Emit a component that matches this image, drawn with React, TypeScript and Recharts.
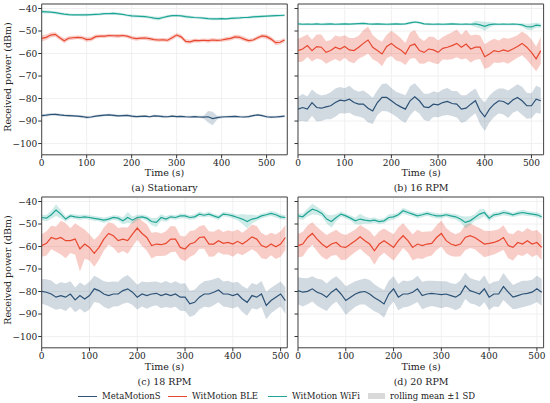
import React from 'react';
import { ComposedChart, Line, Area, XAxis, YAxis, CartesianGrid, ReferenceArea } from 'recharts';

// time axis (s), one rolling-mean sample every 10 s
const TIME = [
  0, 10, 20, 30, 40, 50, 60, 70, 80, 90, 100, 110, 120, 130, 140, 150, 160, 170, 180, 190,
  200, 210, 220, 230, 240, 250, 260, 270, 280, 290, 300, 310, 320, 330, 340, 350, 360, 370, 380, 390,
  400, 410, 420, 430, 440, 450, 460, 470, 480, 490, 500, 510, 520, 530, 540,
];

const X_TICKS = [0, 100, 200, 300, 400, 500];
const Y_TICKS = [-100, -90, -80, -70, -60, -50, -40];

// (a) Stationary
const A_META = [
  -87.6, -87.4, -87.1, -87.0, -87.3, -87.5, -87.6, -87.7, -87.8, -88.0,
  -88.4, -88.2, -87.8, -87.6, -87.4, -87.3, -87.5, -87.7, -87.6, -87.5,
  -87.8, -88.0, -87.9, -87.8, -88.1, -87.7, -87.8, -88.0, -88.1, -87.8,
  -88.0, -87.9, -88.1, -88.2, -88.0, -88.2, -88.3, -88.1, -88.9, -88.5,
  -88.2, -88.1, -88.0, -87.9, -88.1, -88.2, -88.0, -87.6, -87.3, -87.6,
  -88.1, -88.3, -88.2, -88.0, -87.8,
];
const A_META_SD = [
  0.6, 0.6, 0.7, 0.6, 0.6, 0.5, 0.6, 0.5, 0.5, 0.6,
  0.6, 0.6, 0.5, 0.6, 0.5, 0.5, 0.6, 0.5, 0.5, 0.5,
  0.6, 0.5, 0.5, 0.5, 0.5, 0.5, 0.5, 0.6, 0.5, 0.5,
  0.5, 0.5, 0.5, 0.5, 0.5, 0.5, 0.6, 2.6, 3.0, 0.8,
  0.6, 0.5, 0.5, 0.5, 0.5, 0.5, 0.5, 0.5, 0.5, 0.5,
  0.6, 0.5, 0.6, 0.5, 0.5,
];
const A_BLE = [
  -53.3, -52.8, -51.8, -51.5, -53.0, -54.3, -53.2, -53.0, -52.8, -53.0,
  -53.8, -53.6, -52.5, -52.3, -52.3, -52.0, -52.1, -52.2, -52.0, -52.3,
  -53.0, -53.4, -53.2, -53.1, -53.4, -53.8, -54.0, -53.9, -54.1, -53.0,
  -51.8, -52.6, -54.6, -54.8, -54.2, -54.3, -54.1, -54.3, -54.0, -54.2,
  -54.0, -53.6, -53.3, -52.6, -52.8, -53.6, -54.3, -54.0, -53.0, -52.2,
  -52.5, -53.6, -55.2, -55.0, -54.0,
];
const A_BLE_SD = [
  1.4, 1.2, 1.1, 1.0, 1.0, 1.1, 0.9, 0.9, 0.8, 0.9,
  1.0, 1.0, 0.9, 0.8, 0.8, 0.8, 0.8, 0.9, 0.8, 0.8,
  0.9, 0.9, 0.8, 0.9, 0.9, 0.8, 0.9, 0.8, 0.9, 1.0,
  0.9, 1.0, 1.0, 0.9, 0.9, 0.8, 0.8, 0.9, 0.9, 0.8,
  0.8, 0.9, 0.9, 0.9, 1.0, 1.0, 0.9, 0.8, 0.9, 0.9,
  1.0, 1.0, 1.1, 1.0, 0.9,
];
const A_WIFI = [
  -41.4, -41.5, -41.6, -41.8, -42.2, -42.5, -42.7, -42.8, -42.8, -42.8,
  -42.8, -42.7, -42.6, -42.5, -42.3, -42.3, -42.2, -42.4, -42.6, -43.0,
  -43.3, -43.4, -43.5, -43.6, -43.9, -44.3, -44.5, -44.0, -43.5, -43.2,
  -43.1, -43.3, -43.6, -43.8, -44.0, -44.1, -44.3, -44.5, -44.6, -44.6,
  -44.5, -44.6, -44.4, -44.3, -44.2, -44.0, -43.9, -43.7, -43.6, -43.5,
  -43.4, -43.3, -43.2, -43.1, -43.0,
];
const A_WIFI_SD = [
  0.7, 0.7, 0.6, 0.6, 0.7, 0.6, 0.6, 0.5, 0.5, 0.6,
  0.6, 0.5, 0.6, 0.6, 0.5, 0.5, 0.6, 0.6, 0.5, 0.6,
  0.7, 0.6, 0.6, 0.6, 0.7, 0.8, 0.8, 0.7, 0.6, 0.6,
  0.6, 0.6, 0.7, 0.6, 0.6, 0.6, 0.6, 0.6, 0.6, 0.6,
  0.6, 0.5, 0.6, 0.6, 0.6, 0.5, 0.6, 0.6, 0.6, 0.6,
  0.5, 0.6, 0.6, 0.6, 0.6,
];

// (b) 16 RPM
const B_META = [
  -84.7, -84.0, -84.7, -81.8, -84.0, -84.3, -83.7, -83.2, -81.8, -80.7,
  -81.0, -80.3, -81.8, -82.5, -82.5, -84.3, -85.5, -81.8, -79.5, -79.5,
  -81.0, -82.5, -83.7, -84.7, -81.0, -79.2, -81.0, -83.7, -84.0, -82.5,
  -82.8, -81.8, -81.3, -82.2, -82.5, -84.7, -84.3, -82.5, -81.0, -85.5,
  -88.1, -84.7, -82.5, -81.0, -81.3, -82.5, -80.7, -79.5, -81.0, -83.2,
  -83.2, -80.3, -81.0,
];
const B_META_SD = [
  5.5, 6.0, 5.6, 5.8, 6.2, 5.7, 5.5, 6.0, 6.3, 5.8,
  5.6, 6.0, 5.7, 5.5, 6.1, 6.4, 5.8, 5.5, 6.0, 6.2,
  5.7, 5.5, 5.9, 6.2, 6.5, 6.0, 5.6, 5.8, 6.1, 5.7,
  5.5, 5.8, 6.0, 5.6, 5.9, 6.2, 5.8, 5.6, 5.5, 5.9,
  6.3, 6.0, 5.7, 5.5, 5.8, 6.1, 5.6, 5.9, 6.2, 5.8,
  5.6, 6.0, 5.8,
];
const B_BLE = [
  -58.7, -58.0, -56.5, -58.7, -56.9, -57.2, -59.5, -58.7, -57.2, -58.0,
  -56.9, -58.4, -58.7, -57.2, -55.5, -54.0, -57.2, -58.7, -60.2, -56.9,
  -55.5, -57.2, -58.4, -60.2, -56.5, -55.8, -58.7, -59.5, -58.0, -58.4,
  -59.5, -57.7, -57.2, -56.5, -55.5, -57.2, -55.8, -58.0, -57.2, -57.2,
  -61.4, -60.2, -58.7, -59.2, -58.4, -59.0, -58.0, -56.9, -55.5, -57.2,
  -59.5, -62.4, -58.7,
];
const B_BLE_SD = [
  5.2, 5.5, 5.0, 4.8, 5.3, 5.6, 5.0, 4.7, 5.2, 5.5,
  5.0, 5.3, 5.6, 5.1, 5.8, 6.0, 5.4, 5.0, 5.5, 5.2,
  5.6, 5.9, 5.3, 4.9, 5.8, 6.2, 5.7, 5.1, 5.4, 5.8,
  5.3, 5.0, 5.6, 6.0, 6.2, 5.5, 6.4, 6.0, 5.6, 5.2,
  5.5, 5.8, 5.3, 5.0, 5.4, 5.6, 5.2, 5.0, 5.3, 5.6,
  5.8, 5.5, 6.0,
];
const B_WIFI = [
  -46.8, -47.0, -46.9, -47.0, -46.8, -47.0, -46.9, -46.8, -47.0, -46.9,
  -46.8, -46.9, -46.8, -46.7, -46.6, -46.8, -46.9, -46.8, -46.9, -47.0,
  -46.9, -46.8, -46.9, -46.8, -46.4, -46.0, -46.3, -46.8, -46.9, -47.0,
  -46.9, -47.0, -46.9, -46.8, -46.9, -47.0, -46.9, -47.0, -46.8, -47.3,
  -47.9, -47.2, -46.9, -47.0, -46.9, -47.0, -46.9, -47.0, -47.3, -48.1,
  -48.2, -47.4, -47.6,
];
const B_WIFI_SD = [
  0.6, 0.6, 0.5, 0.6, 0.5, 0.5, 0.6, 0.5, 0.5, 0.5,
  0.5, 0.5, 0.5, 0.5, 0.5, 0.5, 0.5, 0.5, 0.5, 0.5,
  0.5, 0.5, 0.5, 0.5, 0.6, 0.6, 0.5, 0.5, 0.5, 0.5,
  0.5, 0.5, 0.5, 0.5, 0.5, 0.5, 0.5, 0.5, 1.4, 1.6,
  2.0, 1.2, 0.6, 0.5, 0.5, 0.5, 0.5, 0.5, 0.7, 1.3,
  1.5, 1.2, 0.9,
];

// (c) 18 RPM
const C_META = [
  -79.9, -80.3, -81.1, -82.5, -81.8, -82.5, -81.1, -83.7, -81.8, -83.3,
  -81.8, -78.8, -79.6, -81.1, -81.8, -81.1, -81.1, -79.6, -78.8, -80.3,
  -82.5, -81.1, -81.8, -81.1, -80.8, -81.8, -81.1, -81.8, -81.1, -82.5,
  -82.5, -85.5, -84.8, -82.5, -81.1, -81.1, -80.3, -79.3, -81.1, -81.1,
  -81.8, -81.1, -83.3, -84.8, -81.8, -82.5, -81.1, -86.2, -84.0, -82.5,
  -81.1, -84.0,
];
const C_META_SD = [
  5.5, 5.8, 6.0, 5.6, 5.9, 6.2, 5.7, 5.5, 5.8, 6.0,
  6.2, 5.8, 5.5, 5.7, 6.0, 5.6, 5.4, 5.8, 6.1, 5.7,
  5.5, 5.6, 5.9, 5.5, 5.3, 5.6, 5.8, 5.5, 5.7, 6.0,
  6.2, 5.8, 5.6, 5.5, 5.7, 6.0, 5.8, 5.5, 5.6, 5.9,
  5.7, 5.5, 5.8, 6.0, 5.6, 5.5, 5.8, 6.1, 5.7, 5.5,
  5.6, 5.9,
];
const C_BLE = [
  -59.6, -58.6, -56.0, -56.7, -56.0, -57.4, -57.4, -56.7, -61.1, -58.9,
  -60.4, -63.0, -60.4, -56.7, -54.2, -55.2, -57.4, -56.7, -57.4, -54.5,
  -51.8, -54.2, -56.0, -59.6, -58.9, -59.2, -58.6, -56.7, -56.7, -60.4,
  -61.1, -58.9, -58.2, -56.0, -55.7, -58.9, -58.9, -57.4, -58.6, -58.2,
  -58.9, -57.7, -58.9, -57.4, -55.7, -56.7, -59.6, -60.4, -58.9, -60.1,
  -58.9, -56.0,
];
const C_BLE_SD = [
  5.0, 5.4, 5.2, 5.6, 7.5, 7.8, 5.5, 7.0, 10.0, 6.5,
  5.8, 6.0, 5.5, 5.2, 5.0, 5.4, 5.6, 5.3, 5.8, 5.5,
  5.2, 5.6, 5.9, 5.7, 5.3, 5.0, 5.4, 5.8, 5.6, 5.2,
  5.5, 5.8, 5.4, 5.0, 5.3, 5.7, 5.5, 5.2, 5.0, 5.4,
  5.6, 5.3, 5.0, 5.2, 5.5, 5.8, 5.6, 5.3, 5.0, 5.4,
  5.7, 5.5,
];
const C_WIFI = [
  -47.1, -47.4, -45.9, -43.8, -45.6, -47.8, -46.4, -46.8, -47.1, -46.8,
  -47.1, -47.5, -47.8, -48.3, -47.8, -47.1, -47.4, -48.6, -47.1, -48.3,
  -47.1, -46.8, -47.4, -48.9, -49.3, -47.1, -47.8, -46.8, -47.1, -46.4,
  -46.4, -47.1, -46.8, -45.6, -46.1, -45.6, -46.4, -47.1, -45.6, -45.9,
  -46.4, -47.1, -47.8, -48.9, -47.8, -47.4, -46.4, -45.9, -45.3, -45.9,
  -46.8, -47.1,
];
const C_WIFI_SD = [
  1.2, 1.4, 1.8, 2.6, 1.8, 1.2, 1.0, 1.0, 1.1, 1.0,
  1.0, 1.1, 1.0, 1.2, 1.1, 1.0, 1.2, 1.5, 2.4, 1.6,
  1.2, 1.0, 1.1, 1.6, 2.0, 1.4, 1.2, 1.0, 1.0, 1.1,
  1.0, 1.0, 1.1, 1.2, 1.0, 1.1, 1.0, 1.1, 1.0, 1.0,
  1.1, 1.2, 2.2, 3.0, 2.0, 1.2, 1.1, 1.0, 1.1, 1.2,
  1.1, 1.0,
];

// (d) 20 RPM
const D_META = [
  -79.6, -80.3, -79.9, -78.8, -80.3, -81.1, -82.5, -80.3, -78.8, -81.1,
  -84.0, -82.5, -81.1, -80.3, -80.0, -81.1, -82.8, -84.0, -85.5, -81.1,
  -78.8, -82.5, -81.1, -81.1, -80.3, -78.8, -81.8, -81.1, -80.8, -81.1,
  -81.4, -81.1, -81.8, -82.5, -81.1, -77.4, -79.6, -80.3, -81.1, -78.8,
  -82.5, -81.1, -81.1, -77.8, -80.3, -82.5, -81.8, -81.1, -80.8, -80.3,
  -78.8, -80.3,
];
const D_META_SD = [
  6.0, 6.3, 5.8, 5.6, 6.0, 6.4, 6.1, 5.8, 5.6, 6.0,
  6.3, 6.0, 5.7, 5.5, 5.8, 6.2, 6.0, 5.8, 6.2, 5.9,
  5.6, 5.8, 6.0, 5.7, 5.5, 5.8, 6.1, 5.9, 5.6, 5.8,
  6.0, 5.7, 5.5, 5.8, 6.1, 5.9, 5.6, 5.5, 5.8, 6.0,
  5.7, 5.5, 5.8, 6.0, 5.6, 5.4, 5.7, 5.9, 5.6, 5.5,
  5.8, 6.0,
];
const D_BLE = [
  -59.6, -58.9, -56.0, -54.2, -56.7, -58.9, -60.4, -58.9, -58.2, -60.1,
  -60.4, -58.9, -57.4, -55.7, -57.4, -58.9, -61.9, -58.9, -57.4, -58.9,
  -60.4, -57.4, -55.2, -57.4, -60.4, -58.9, -59.6, -58.9, -58.6, -56.0,
  -54.2, -57.4, -58.9, -59.6, -58.9, -56.0, -55.2, -56.0, -57.4, -58.9,
  -58.6, -58.2, -57.4, -56.0, -59.6, -60.4, -58.2, -58.9, -57.4, -58.9,
  -58.2, -60.4,
];
const D_BLE_SD = [
  5.2, 5.5, 5.3, 5.0, 5.4, 5.7, 5.5, 5.2, 5.6, 5.9,
  5.5, 5.2, 5.0, 5.3, 5.6, 5.8, 6.2, 5.7, 5.4, 5.6,
  5.8, 6.0, 5.5, 5.3, 5.8, 6.3, 6.0, 5.6, 5.4, 5.5,
  5.8, 5.6, 5.3, 5.0, 5.4, 5.7, 5.5, 5.2, 5.6, 5.9,
  5.5, 5.3, 5.1, 5.4, 5.6, 5.8, 5.5, 5.3, 5.6, 5.8,
  5.5, 5.7,
];
const D_WIFI = [
  -46.4, -46.8, -44.9, -43.4, -44.1, -45.3, -47.8, -48.9, -47.1, -45.6,
  -46.4, -47.4, -48.6, -47.8, -48.3, -48.6, -48.3, -48.9, -48.6, -47.1,
  -46.8, -45.9, -44.1, -44.9, -45.6, -46.4, -45.9, -45.3, -45.9, -46.4,
  -46.4, -45.9, -46.4, -46.8, -47.8, -49.3, -48.6, -47.1, -45.6, -44.9,
  -47.4, -45.9, -45.6, -44.9, -45.3, -45.9, -45.3, -44.9, -45.3, -45.6,
  -45.9, -46.8,
];
const D_WIFI_SD = [
  1.2, 1.4, 1.8, 2.4, 1.8, 1.4, 2.0, 2.8, 1.6, 1.2,
  1.1, 1.2, 1.5, 2.4, 1.6, 1.3, 1.2, 1.1, 1.2, 1.4,
  1.2, 1.1, 1.3, 1.2, 1.1, 1.2, 1.1, 1.0, 1.1, 1.2,
  1.1, 1.0, 1.1, 1.2, 1.5, 2.6, 2.0, 1.4, 2.2, 1.6,
  1.3, 1.2, 1.1, 1.2, 1.1, 1.0, 1.1, 1.2, 1.1, 1.0,
  1.1, 1.2,
];

const SERIES = [
  { key: 'meta', name: 'MetaMotionS', color: '#2c5276', band: 0.22 },
  { key: 'ble', name: 'WitMotion BLE', color: '#e8472f', band: 0.27 },
  { key: 'wifi', name: 'WitMotion WiFi', color: '#1fa595', band: 0.22 },
];

const FONT = '"DejaVu Serif", serif';
const Y_DOMAIN: [number, number] = [-105, -38];
const PLOT_W = 245.6;
const PLOT_H = 150.8;

const minus = (v: number) => String(v).replace('-', '\u2212');

function buildRows(meta, metaSd, ble, bleSd, wifi, wifiSd) {
  return meta.map((m, i) => ({
    t: TIME[i],
    meta: m,
    metaBand: [m - metaSd[i], m + metaSd[i]],
    ble: ble[i],
    bleBand: [ble[i] - bleSd[i], ble[i] + bleSd[i]],
    wifi: wifi[i],
    wifiBand: [wifi[i] - wifiSd[i], wifi[i] + wifiSd[i]],
  }));
}

const PANELS = [
  { id: 'a', caption: '(a) Stationary', xMax: 546, left: 41.7, top: 3.5, labels: true,
    rows: buildRows(A_META, A_META_SD, A_BLE, A_BLE_SD, A_WIFI, A_WIFI_SD) },
  { id: 'b', caption: '(b) 16 RPM', xMax: 526, left: 298.3, top: 3.5, labels: false,
    rows: buildRows(B_META, B_META_SD, B_BLE, B_BLE_SD, B_WIFI, B_WIFI_SD) },
  { id: 'c', caption: '(c) 18 RPM', xMax: 514, left: 41.7, top: 197, labels: true,
    rows: buildRows(C_META, C_META_SD, C_BLE, C_BLE_SD, C_WIFI, C_WIFI_SD) },
  { id: 'd', caption: '(d) 20 RPM', xMax: 514, left: 298.3, top: 197, labels: false,
    rows: buildRows(D_META, D_META_SD, D_BLE, D_BLE_SD, D_WIFI, D_WIFI_SD) },
];

const tickStyle = { fontFamily: FONT, fontSize: 9, fill: '#222' };

function Panel({ p }) {
  const yw = p.labels ? p.left : 10;
  const mt = 6;
  const mr = 6;
  const xh = 16;
  const cx = p.left + PLOT_W / 2;
  const bottom = p.top + PLOT_H;
  return (
    <>
      <div style={{ position: 'absolute', left: p.left - yw, top: p.top - mt }}>
        <ComposedChart
          width={yw + PLOT_W + mr}
          height={mt + PLOT_H + xh}
          data={p.rows}
          margin={{ top: mt, right: mr, bottom: 0, left: 0 }}
        >
          <CartesianGrid stroke="#ececec" strokeWidth={0.8} />
          <XAxis
            dataKey="t"
            type="number"
            domain={[0, p.xMax]}
            ticks={X_TICKS}
            height={xh}
            axisLine={false}
            tickLine={{ stroke: '#333' }}
            tickSize={3.5}
            tickMargin={1.5}
            tick={tickStyle}
            allowDataOverflow
          />
          <YAxis
            type="number"
            domain={Y_DOMAIN}
            ticks={Y_TICKS}
            width={yw}
            axisLine={false}
            tickLine={{ stroke: '#333' }}
            tickSize={3.5}
            tickMargin={1}
            tick={tickStyle}
            tickFormatter={p.labels ? minus : () => ''}
            allowDataOverflow
          />
          {SERIES.map((s) => (
            <Area
              key={s.key + 'Band'}
              dataKey={s.key + 'Band'}
              stroke="none"
              fill={s.color}
              fillOpacity={s.band}
              isAnimationActive={false}
              activeDot={false}
            />
          ))}
          {SERIES.map((s) => (
            <Line
              key={s.key}
              dataKey={s.key}
              stroke={s.color}
              strokeWidth={1.2}
              dot={false}
              activeDot={false}
              isAnimationActive={false}
            />
          ))}
          <ReferenceArea
            x1={0}
            x2={p.xMax}
            y1={Y_DOMAIN[0]}
            y2={Y_DOMAIN[1]}
            fill="none"
            stroke="#444"
            strokeWidth={1}
          />
        </ComposedChart>
      </div>
      <div style={{ ...textAt(cx, bottom + 19), fontSize: 9.5 }}>Time (s)</div>
      <div style={{ ...textAt(cx, bottom + 34), fontSize: 9.5 }}>{p.caption}</div>
      {p.labels && (
        <div
          style={{
            position: 'absolute',
            left: 8,
            top: p.top + 73,
            transform: 'translate(-50%, -50%) rotate(-90deg)',
            whiteSpace: 'nowrap',
            fontFamily: FONT,
            fontSize: 9.5,
            color: '#222',
            lineHeight: 1,
          }}
        >
          Received power (dBm)
        </div>
      )}
    </>
  );
}

function textAt(x: number, y: number) {
  return {
    position: 'absolute' as const,
    left: x,
    top: y,
    transform: 'translate(-50%, -50%)',
    whiteSpace: 'nowrap' as const,
    fontFamily: FONT,
    color: '#222',
    lineHeight: 1,
  };
}

const LEGEND_X = [78, 168, 268];

export default function App() {
  return (
    <div style={{ position: 'absolute', left: 0, top: 0, width: 550, height: 403, background: '#fff' }}>
      {PANELS.map((p) => (
        <Panel key={p.id} p={p} />
      ))}
      {SERIES.map((s, i) => (
        <div key={s.key} style={{ position: 'absolute', left: LEGEND_X[i], top: 390, display: 'flex', alignItems: 'center', height: 12 }}>
          <span style={{ width: 19, height: 0, borderTop: `1.5px solid ${s.color}`, display: 'inline-block' }} />
          <span style={{ marginLeft: 5, fontFamily: FONT, fontSize: 8.5, color: '#222', whiteSpace: 'nowrap' }}>{s.name}</span>
        </div>
      ))}
      <div style={{ position: 'absolute', left: 368, top: 390, display: 'flex', alignItems: 'center', height: 12 }}>
        <span style={{ width: 17, height: 6, background: '#d9d9d9', display: 'inline-block' }} />
        <span style={{ marginLeft: 5, fontFamily: FONT, fontSize: 8.5, color: '#222', whiteSpace: 'nowrap' }}>rolling mean ±1 SD</span>
      </div>
    </div>
  );
}
